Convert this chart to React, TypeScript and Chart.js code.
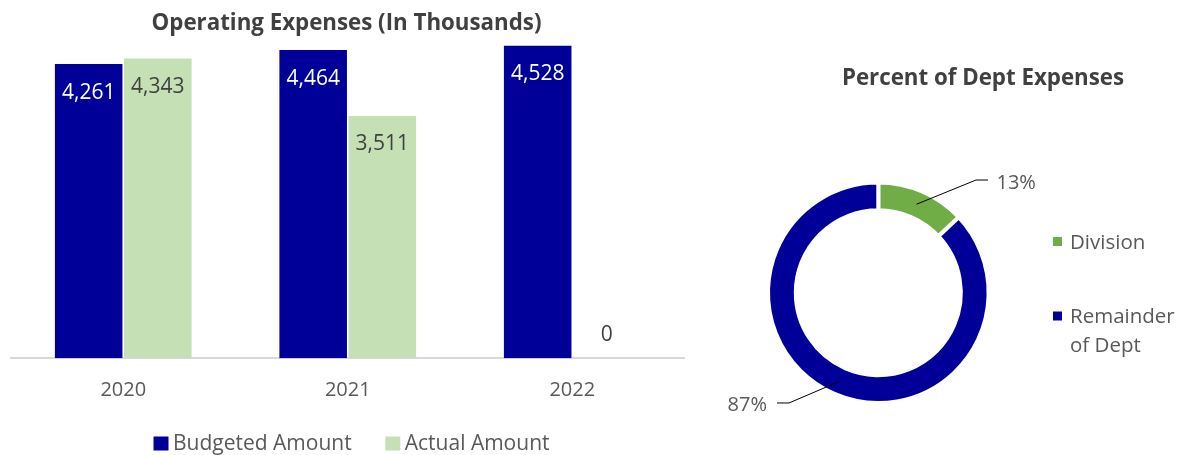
import React, { useEffect, useRef } from "react";
import { Chart, registerables } from "chart.js";

Chart.register(...registerables);

// ---- data ----
const years = ["2020", "2021", "2022"];
const budgeted = [4261, 4464, 4528];
const actual = [4343, 3511, 0];
const seriesNames = ["Budgeted Amount", "Actual Amount"];
const barTitle = "Operating Expenses (In Thousands)";
const yMax = 4600;

const shareLabels = ["Division", "Remainder of Dept"];
const shareValues = [13, 87];
const pieTitle = "Percent of Dept Expenses";

// ---- style ----
const FONT = "'Open Sans', 'Noto Sans', sans-serif";
const NAVY = "#000099";
const LIGHT_GREEN = "#C5E0B4";
const GREEN = "#70AD47";
const TEXT = "#595959";
const TITLE = "#404040";
const BAR_W = 696;
const PIE_W = 480;
const H = 455;

const barDecor = {
  id: "barDecor",
  afterDatasetsDraw(chart: any) {
    const ctx = chart.ctx;
    ctx.save();
    ctx.font = `21px ${FONT}`;
    ctx.textAlign = "center";
    ctx.textBaseline = "alphabetic";
    chart.data.datasets.forEach((ds: any, di: number) => {
      const meta = chart.getDatasetMeta(di);
      meta.data.forEach((bar: any, i: number) => {
        const v = ds.data[i];
        const txt = v.toLocaleString("en-US");
        let y;
        if (v === 0) {
          y = bar.base - 17;
          ctx.fillStyle = TITLE;
        } else {
          y = bar.y + 34.5;
          ctx.fillStyle = di === 0 ? "#ffffff" : TITLE;
        }
        ctx.fillText(txt, bar.x, y);
      });
    });
    ctx.restore();
  },
  afterDraw(chart: any) {
    const ctx = chart.ctx;
    ctx.save();
    // title
    ctx.font = `bold 22.3px ${FONT}`;
    ctx.fillStyle = TITLE;
    ctx.textAlign = "center";
    ctx.textBaseline = "alphabetic";
    ctx.fillText(barTitle, chart.width / 2 - 1.5, 29.5);
    // legend
    ctx.font = `21px ${FONT}`;
    const boxW = 15, boxH = 14, gap = 4.5, itemGap = 33.6;
    const colors = [NAVY, LIGHT_GREEN];
    const widths = seriesNames.map((n) => boxW + gap + ctx.measureText(n).width);
    const total = widths.reduce((a, b) => a + b, 0) + itemGap * (widths.length - 1);
    let x = chart.width / 2 + 3.5 - total / 2;
    ctx.textAlign = "left";
    seriesNames.forEach((n, i) => {
      ctx.fillStyle = colors[i];
      ctx.fillRect(x, 436.5, boxW, boxH);
      ctx.fillStyle = TEXT;
      ctx.fillText(n, x + boxW + gap, 450);
      x += widths[i] + itemGap;
    });
    ctx.restore();
  },
};

function wrapText(ctx: any, text: string, maxW: number): string[] {
  const words = text.split(" ");
  const lines: string[] = [];
  let cur = "";
  words.forEach((w) => {
    const test = cur ? cur + " " + w : w;
    if (cur && ctx.measureText(test).width > maxW) {
      lines.push(cur);
      cur = w;
    } else cur = test;
  });
  if (cur) lines.push(cur);
  return lines;
}

const pieDecor = {
  id: "pieDecor",
  afterDraw(chart: any) {
    const ctx = chart.ctx;
    ctx.save();
    // title
    ctx.font = `bold 22.3px ${FONT}`;
    ctx.fillStyle = TITLE;
    ctx.textAlign = "center";
    ctx.textBaseline = "alphabetic";
    ctx.fillText(pieTitle, 283, 84.7);

    // leader lines + percentage labels
    const meta = chart.getDatasetMeta(0);
    const vals = chart.data.datasets[0].data as number[];
    const total = vals.reduce((a, b) => a + b, 0);
    ctx.font = `20px ${FONT}`;
    meta.data.forEach((arc: any, i: number) => {
      const p = arc.getProps(["x", "y", "startAngle", "endAngle", "innerRadius", "outerRadius"], true);
      const mid = (p.startAngle + p.endAngle) / 2;
      const rm = (p.innerRadius + p.outerRadius) / 2;
      const sx = p.x + Math.cos(mid) * rm;
      const sy = p.y + Math.sin(mid) * rm;
      const right = Math.cos(mid) >= 0;
      const ex = right ? sx + 59.4 : sx - 51;
      const ey = right ? sy - 24.2 : sy + 21.8;
      const hx = right ? ex + 12 : ex - 12;
      ctx.strokeStyle = "#000000";
      ctx.lineWidth = 1;
      ctx.beginPath();
      ctx.moveTo(sx, sy);
      ctx.lineTo(ex, ey);
      ctx.lineTo(hx, ey);
      ctx.stroke();
      const txt = Math.round((vals[i] / total) * 100) + "%";
      ctx.fillStyle = TEXT;
      ctx.textAlign = right ? "left" : "right";
      ctx.fillText(txt, right ? hx + 8.5 : hx - 10, ey + (right ? 2 : 1) + 7.2);
    });

    // legend
    ctx.font = `20.5px ${FONT}`;
    const colors = chart.data.datasets[0].backgroundColor as string[];
    ctx.textAlign = "left";
    let cy = 241.5;
    chart.data.labels.forEach((lab: string, i: number) => {
      ctx.fillStyle = colors[i];
      ctx.fillRect(353, cy - 4.5, 9, 9);
      ctx.fillStyle = TEXT;
      const lines = wrapText(ctx, lab, 112);
      lines.forEach((ln, k) => {
        ctx.fillText(ln, 370, cy + 7.3 + k * 28.7);
      });
      cy += 74.5;
    });
    ctx.restore();
  },
};

export default function App() {
  const barRef = useRef<HTMLCanvasElement>(null);
  const pieRef = useRef<HTMLCanvasElement>(null);

  useEffect(() => {
    const bar = new Chart(barRef.current as HTMLCanvasElement, {
      type: "bar",
      data: {
        labels: years,
        datasets: [
          {
            label: seriesNames[0],
            data: budgeted,
            backgroundColor: NAVY,
            categoryPercentage: 0.616,
            barPercentage: 0.977,
          },
          {
            label: seriesNames[1],
            data: actual,
            backgroundColor: LIGHT_GREEN,
            categoryPercentage: 0.616,
            barPercentage: 0.977,
          },
        ],
      },
      options: {
        responsive: false,
        animation: false,
        devicePixelRatio: 1,
        layout: { padding: { left: 11, right: 11.5, top: 40.7, bottom: 0 } },
        plugins: {
          legend: { display: false },
          title: { display: false },
          tooltip: { enabled: false },
        },
        scales: {
          x: {
            grid: { display: false, drawTicks: false },
            border: { display: true, color: "#D9D9D9", width: 2 },
            ticks: { color: TEXT, font: { family: FONT, size: 20 }, padding: 20 },
            afterFit: (s: any) => {
              s.height = H - 358.3;
            },
          },
          y: { display: false, min: 0, max: yMax },
        },
      } as any,
      plugins: [barDecor],
    });

    const pie = new Chart(pieRef.current as HTMLCanvasElement, {
      type: "doughnut",
      data: {
        labels: shareLabels,
        datasets: [
          {
            data: shareValues,
            backgroundColor: [GREEN, NAVY],
            borderColor: "#ffffff",
            borderWidth: 4,
            hoverBorderWidth: 4,
            hoverOffset: 0,
          },
        ],
      },
      options: {
        responsive: false,
        animation: false,
        devicePixelRatio: 1,
        cutout: "74.8%",
        layout: { padding: { left: 66, right: 189.4, top: 180.4, bottom: 50 } },
        plugins: {
          legend: { display: false },
          title: { display: false },
          tooltip: { enabled: false },
        },
      } as any,
      plugins: [pieDecor],
    });

    return () => {
      bar.destroy();
      pie.destroy();
    };
  }, []);

  return (
    <div style={{ position: "absolute", left: 0, top: 0, width: 1180, height: H, background: "#fff" }}>
      <canvas
        ref={barRef}
        width={BAR_W}
        height={H}
        style={{ position: "absolute", left: 0, top: 0, width: BAR_W, height: H }}
      />
      <canvas
        ref={pieRef}
        width={PIE_W}
        height={H}
        style={{ position: "absolute", left: 700, top: 0, width: PIE_W, height: H }}
      />
    </div>
  );
}
